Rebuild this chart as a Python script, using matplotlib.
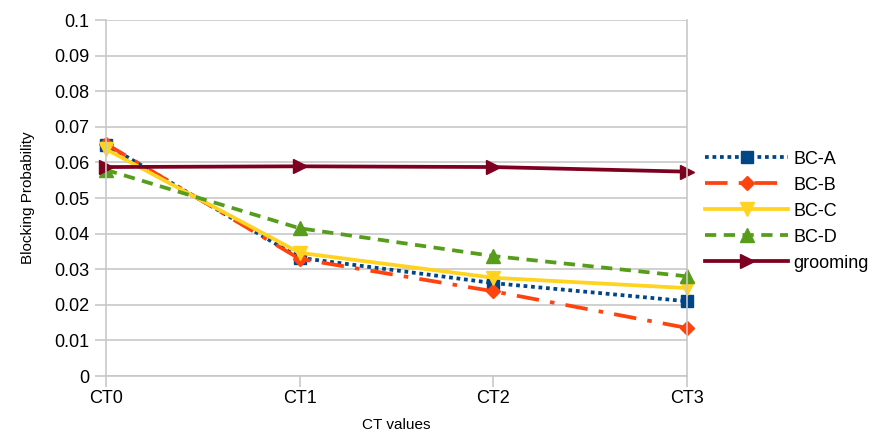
import numpy as np
import matplotlib
matplotlib.use("Agg")
import matplotlib.pyplot as plt

plt.rcParams['font.family'] = ['Liberation Sans', 'DejaVu Sans']

categories = ['CT0', 'CT1', 'CT2', 'CT3']
bc_a = [0.0650, 0.0332, 0.0261, 0.0210]
bc_b = [0.0652, 0.0329, 0.0238, 0.0135]
bc_c = [0.0637, 0.0346, 0.0276, 0.0247]
bc_d = [0.0579, 0.0415, 0.0337, 0.0280]
grooming = [0.0587, 0.0589, 0.0587, 0.0574]

fig = plt.figure(figsize=(8.85, 4.34), dpi=100)
ax = fig.add_axes([0.1198, 0.1336, 0.6565, 0.8203])

x = np.arange(len(categories))
grid_c = '#c8c8c8'

ax.plot(x, bc_a, color='#004586', ls=(0, (1, 1)), lw=2.7, marker='s', ms=9, label='BC-A')
ax.plot(x, bc_b, color='#ff420e', ls=(0, (6, 3, 1.2, 3)), lw=2.7, marker='D', ms=7, label='BC-B')
ax.plot(x, bc_c, color='#ffd320', ls='-', lw=2.7, marker='v', ms=10, label='BC-C')
ax.plot(x, bc_d, color='#579d1c', ls=(0, (3, 2)), lw=2.7, marker='^', ms=10, label='BC-D')
ax.plot(x, grooming, color='#7e0021', ls='-', lw=2.7, marker='>', ms=10, label='grooming')

ax.set_xlim(0, 3)
ax.set_ylim(0, 0.1)
ax.set_yticks(np.arange(0, 0.1001, 0.01))
ax.set_yticklabels(['0', '0.01', '0.02', '0.03', '0.04', '0.05', '0.06', '0.07', '0.08', '0.09', '0.1'])
ax.set_xticks(x)
ax.set_xticklabels(categories)

ax.grid(axis='y', color=grid_c, lw=1.2)
ax.set_axisbelow(True)
for s in ['left', 'right', 'bottom']:
    ax.spines[s].set_color(grid_c)
    ax.spines[s].set_linewidth(1.2)
ax.spines['top'].set_visible(False)
ax.tick_params(axis='both', colors=grid_c, labelcolor='black', labelsize=13, length=8, width=1.2)
ax.tick_params(axis='y', pad=4)
ax.tick_params(axis='x', pad=2)

ax.set_xlabel('CT values', fontsize=11, labelpad=8)
ax.set_ylabel('Blocking Probability', fontsize=11, labelpad=14)

for tl in ax.get_lines():
    tl.set_clip_on(False)

ax.legend(loc='center left', bbox_to_anchor=(1.0, 0.463), frameon=False, fontsize=13,
          handlelength=4.6, labelspacing=0.5, handletextpad=0.3, borderaxespad=0.6)

fig.savefig('out.png', dpi=100)
